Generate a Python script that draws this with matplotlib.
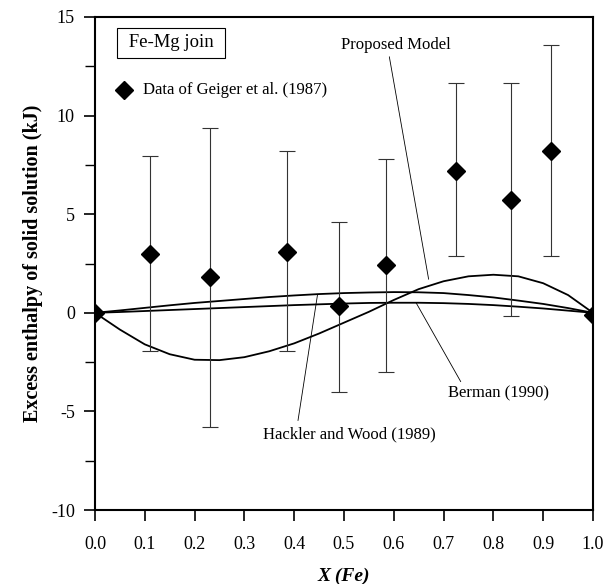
import matplotlib
matplotlib.use('Agg')
import matplotlib.pyplot as plt
from matplotlib.ticker import MultipleLocator

# measured enthalpies (Geiger et al. 1987) with error bar limits
x_data = [0.0, 0.11, 0.23, 0.385, 0.49, 0.585, 0.725, 0.835, 0.915, 1.0]
h_data = [0.0, 3.0, 1.8, 3.1, 0.35, 2.4, 7.2, 5.7, 8.2, -0.1]
h_low = [0.0, -1.95, -5.8, -1.95, -4.0, -3.0, 2.9, -0.15, 2.9, -0.1]
h_high = [0.0, 7.95, 9.35, 8.2, 4.6, 7.8, 11.65, 11.65, 13.6, -0.1]

# model curves, read every 0.05 in X(Fe)
x_curve = [0.0, 0.05, 0.10, 0.15, 0.20, 0.25, 0.30, 0.35, 0.40, 0.45, 0.50,
           0.55, 0.60, 0.65, 0.70, 0.75, 0.80, 0.85, 0.90, 0.95, 1.0]
proposed = [0.0, -0.85, -1.6, -2.1, -2.38, -2.4, -2.25, -1.95, -1.55, -1.05, -0.5,
            0.05, 0.65, 1.2, 1.6, 1.85, 1.93, 1.85, 1.5, 0.9, 0.0]
hackler = [0.0, 0.12, 0.25, 0.38, 0.5, 0.6, 0.7, 0.8, 0.88, 0.95, 1.0,
           1.03, 1.05, 1.04, 1.0, 0.9, 0.78, 0.62, 0.45, 0.24, 0.0]
berman = [0.0, 0.04, 0.09, 0.14, 0.19, 0.24, 0.29, 0.34, 0.39, 0.43, 0.47,
          0.5, 0.51, 0.51, 0.49, 0.45, 0.39, 0.31, 0.22, 0.11, 0.0]

plt.rcParams['font.family'] = ['Liberation Serif', 'DejaVu Serif']
plt.rcParams['axes.unicode_minus'] = False

fig = plt.figure(figsize=(6.1, 5.84), dpi=100)
ax = fig.add_axes([0.1557, 0.1267, 0.8164, 0.8442])

# curves
ax.plot(x_curve, proposed, color='black', lw=1.3)
ax.plot(x_curve, hackler, color='black', lw=1.3)
ax.plot(x_curve, berman, color='black', lw=1.3)

# data with asymmetric error bars
yerr = [[h - lo for h, lo in zip(h_data, h_low)],
        [hi - h for h, hi in zip(h_data, h_high)]]
ax.errorbar(x_data, h_data, yerr=yerr, fmt='D', color='black', ms=9.5,
            ecolor='#333333', elinewidth=0.8, capsize=5.5, capthick=0.8, zorder=3)

# label box and legend entry
ax.text(0.153, 13.7, ' Fe-Mg join ', fontsize=13.5, ha='center', va='center',
        bbox=dict(boxstyle='square,pad=0.35', fc='white', ec='black', lw=0.8))
ax.plot([0.058], [11.3], 'D', color='black', ms=9.5)
ax.text(0.096, 11.3, 'Data of Geiger et al. (1987)', fontsize=12, va='center')

# curve annotations
ax.annotate('Proposed Model', xy=(0.67, 1.7), xytext=(0.605, 13.6),
            fontsize=12, ha='center', va='center',
            arrowprops=dict(arrowstyle='-', lw=0.6, color='black', shrinkA=1, shrinkB=0,
                            relpos=(0.43, 0.0)))
ax.annotate('Berman (1990)', xy=(0.645, 0.5), xytext=(0.81, -4.1),
            fontsize=12, ha='center', va='center',
            arrowprops=dict(arrowstyle='-', lw=0.6, color='black', shrinkA=1, shrinkB=0,
                            relpos=(0.15, 1.0)))
ax.annotate('Hackler and Wood (1989)', xy=(0.447, 0.94), xytext=(0.51, -6.15),
            fontsize=12, ha='center', va='center',
            arrowprops=dict(arrowstyle='-', lw=0.6, color='black', shrinkA=2, shrinkB=0,
                            relpos=(0.2, 1.0)))

ax.set_xlim(0, 1.0)
ax.set_ylim(-10, 15)
ax.xaxis.set_major_locator(MultipleLocator(0.1))
ax.yaxis.set_major_locator(MultipleLocator(5))
ax.yaxis.set_minor_locator(MultipleLocator(2.5))
ax.xaxis.set_major_formatter(plt.FormatStrFormatter('%.1f'))
ax.tick_params(which='major', direction='out', length=8, width=1.2, labelsize=13)
ax.tick_params(which='minor', direction='out', length=7, width=1.0)
ax.tick_params(axis='x', pad=11)
ax.tick_params(axis='y', pad=6.5)
for s in ax.spines.values():
    s.set_linewidth(1.5)

ax.set_xlabel('X (Fe)', fontsize=14, fontweight='bold', style='italic', labelpad=10)
ax.set_ylabel('Excess enthalpy of solid solution (kJ)', fontsize=14.5, fontweight='bold',
              labelpad=6)

fig.savefig('out.png', dpi=100)
